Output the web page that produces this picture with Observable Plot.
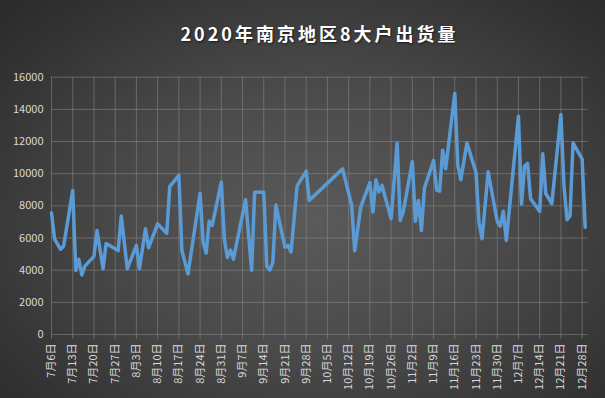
<!DOCTYPE html>
<html>
<head>
<meta charset="utf-8">
<script src="https://cdn.jsdelivr.net/npm/d3@7"></script>
<script src="https://cdn.jsdelivr.net/npm/@observablehq/plot@0.6"></script>
<style>
  html, body { margin: 0; padding: 0; }
  #wrap {
    width: 605px; height: 398px; overflow: hidden;
    background: radial-gradient(ellipse 70% 75% at 52% 55%, #5a5a5a 0%, #4a4a4a 45%, #363636 80%, #2c2c2c 100%);
    font-family: "Noto Sans CJK SC", "Noto Sans", sans-serif;
  }
  #title {
    height: 55px; box-sizing: border-box; padding-top: 22px;
    text-align: center; color: #ffffff; font-weight: bold;
    font-size: 18px; letter-spacing: 3px; line-height: 22px;
    padding-left: 34px;
    text-shadow: 1px 1px 2px rgba(0,0,0,0.6);
  }
  #chart svg { display: block; background: transparent; }
</style>
</head>
<body>
<div id="wrap">
  <div id="title">2020年南京地区8大户出货量</div>
  <div id="chart"></div>
</div>
<script>
const dates = [
  "2020-07-06","2020-07-07","2020-07-09","2020-07-10","2020-07-13","2020-07-14","2020-07-15","2020-07-16","2020-07-17",
  "2020-07-20","2020-07-21","2020-07-23","2020-07-24","2020-07-28","2020-07-29","2020-07-31",
  "2020-08-03","2020-08-04","2020-08-06","2020-08-07","2020-08-10","2020-08-13","2020-08-14",
  "2020-08-17","2020-08-18","2020-08-20","2020-08-24","2020-08-25","2020-08-26","2020-08-27","2020-08-28",
  "2020-08-31","2020-09-01","2020-09-02","2020-09-03","2020-09-04","2020-09-08","2020-09-10","2020-09-11",
  "2020-09-14","2020-09-15","2020-09-16","2020-09-17","2020-09-18","2020-09-21","2020-09-22","2020-09-23","2020-09-25",
  "2020-09-28","2020-09-29","2020-10-10","2020-10-13","2020-10-14","2020-10-16",
  "2020-10-19","2020-10-20","2020-10-21","2020-10-22","2020-10-23","2020-10-26","2020-10-28","2020-10-29","2020-10-30",
  "2020-11-02","2020-11-03","2020-11-04","2020-11-05","2020-11-06","2020-11-09","2020-11-10","2020-11-11","2020-11-12","2020-11-13",
  "2020-11-16","2020-11-17","2020-11-18","2020-11-20","2020-11-23","2020-11-24","2020-11-25","2020-11-27",
  "2020-11-30","2020-12-01","2020-12-02","2020-12-03","2020-12-07","2020-12-08","2020-12-09","2020-12-10","2020-12-11",
  "2020-12-14","2020-12-15","2020-12-16","2020-12-18","2020-12-21","2020-12-22","2020-12-23","2020-12-24","2020-12-25",
  "2020-12-28","2020-12-29"
];
const volumes = [
  7570,5950,5300,5500,8960,3980,4680,3700,4250,
  4860,6470,4090,5660,5220,7370,4090,
  5540,4090,6570,5390,6880,6300,9200,
  9890,5220,3770,8770,5740,5060,7050,6780,
  9470,5950,4790,5250,4690,8380,4000,8850,
  8850,4250,4000,4500,8050,5430,5540,5130,9240,
  10160,8340,10300,8020,5200,7940,
  9450,7610,9620,8870,9270,7200,11900,7090,7630,
  10750,7040,8330,6470,9110,10820,8980,8910,11460,10310,
  14990,10510,9630,11910,10080,6950,5950,10120,
  7040,6740,7660,5850,13570,8110,10460,10640,8440,
  7660,11240,8770,8130,13680,9270,7140,7370,11910,
  10900,6670
];
const xTicks = [
  "2020-07-06","2020-07-13","2020-07-20","2020-07-27","2020-08-03","2020-08-10","2020-08-17","2020-08-24","2020-08-31",
  "2020-09-07","2020-09-14","2020-09-21","2020-09-28","2020-10-05","2020-10-12","2020-10-19","2020-10-26",
  "2020-11-02","2020-11-09","2020-11-16","2020-11-23","2020-11-30","2020-12-07","2020-12-14","2020-12-21","2020-12-28"
];
const yTicks = [0,2000,4000,6000,8000,10000,12000,14000,16000];
const xDomain = ["2020-07-06","2020-12-30"];

const data = dates.map((d, i) => ({date: new Date(d), value: volumes[i]}));
const tickDates = xTicks.map(d => new Date(d));
const fmt = d => `${d.getUTCMonth() + 1}月${d.getUTCDate()}日`;
const gridColor = "#8a8a8a";

const chart = Plot.plot({
  width: 605,
  height: 343,
  marginLeft: 51,
  marginRight: 17.3,
  marginTop: 21.7,
  marginBottom: 64,
  style: {background: "transparent", color: "#d9d9d9", fontSize: "11px", fontFamily: "'Noto Sans CJK SC', 'Noto Sans', sans-serif"},
  x: {type: "utc", domain: xDomain.map(d => new Date(d)), label: null},
  y: {domain: [0, 16000], label: null},
  marks: [
    Plot.ruleY(yTicks, {stroke: gridColor, strokeOpacity: 0.55, strokeWidth: 1}),
    Plot.ruleX(tickDates, {stroke: gridColor, strokeOpacity: 0.55, strokeWidth: 1}),
    Plot.axisY(yTicks, {tickSize: 0, tickPadding: 8, tickFormat: d => String(d), fill: "#d9d9d9", fontSize: 11}),
    Plot.axisX(tickDates, {tickSize: 5, tickPadding: 4, tickRotate: -90, tickFormat: fmt, stroke: gridColor, strokeOpacity: 0.55, fill: "#d9d9d9", fontSize: 11}),
    Plot.lineY(data, {x: "date", y: "value", stroke: "#5b9bd5", strokeWidth: 3.5, strokeLinejoin: "round", strokeLinecap: "round"})
  ]
});
document.getElementById("chart").appendChild(chart);
</script>
</body>
</html>
